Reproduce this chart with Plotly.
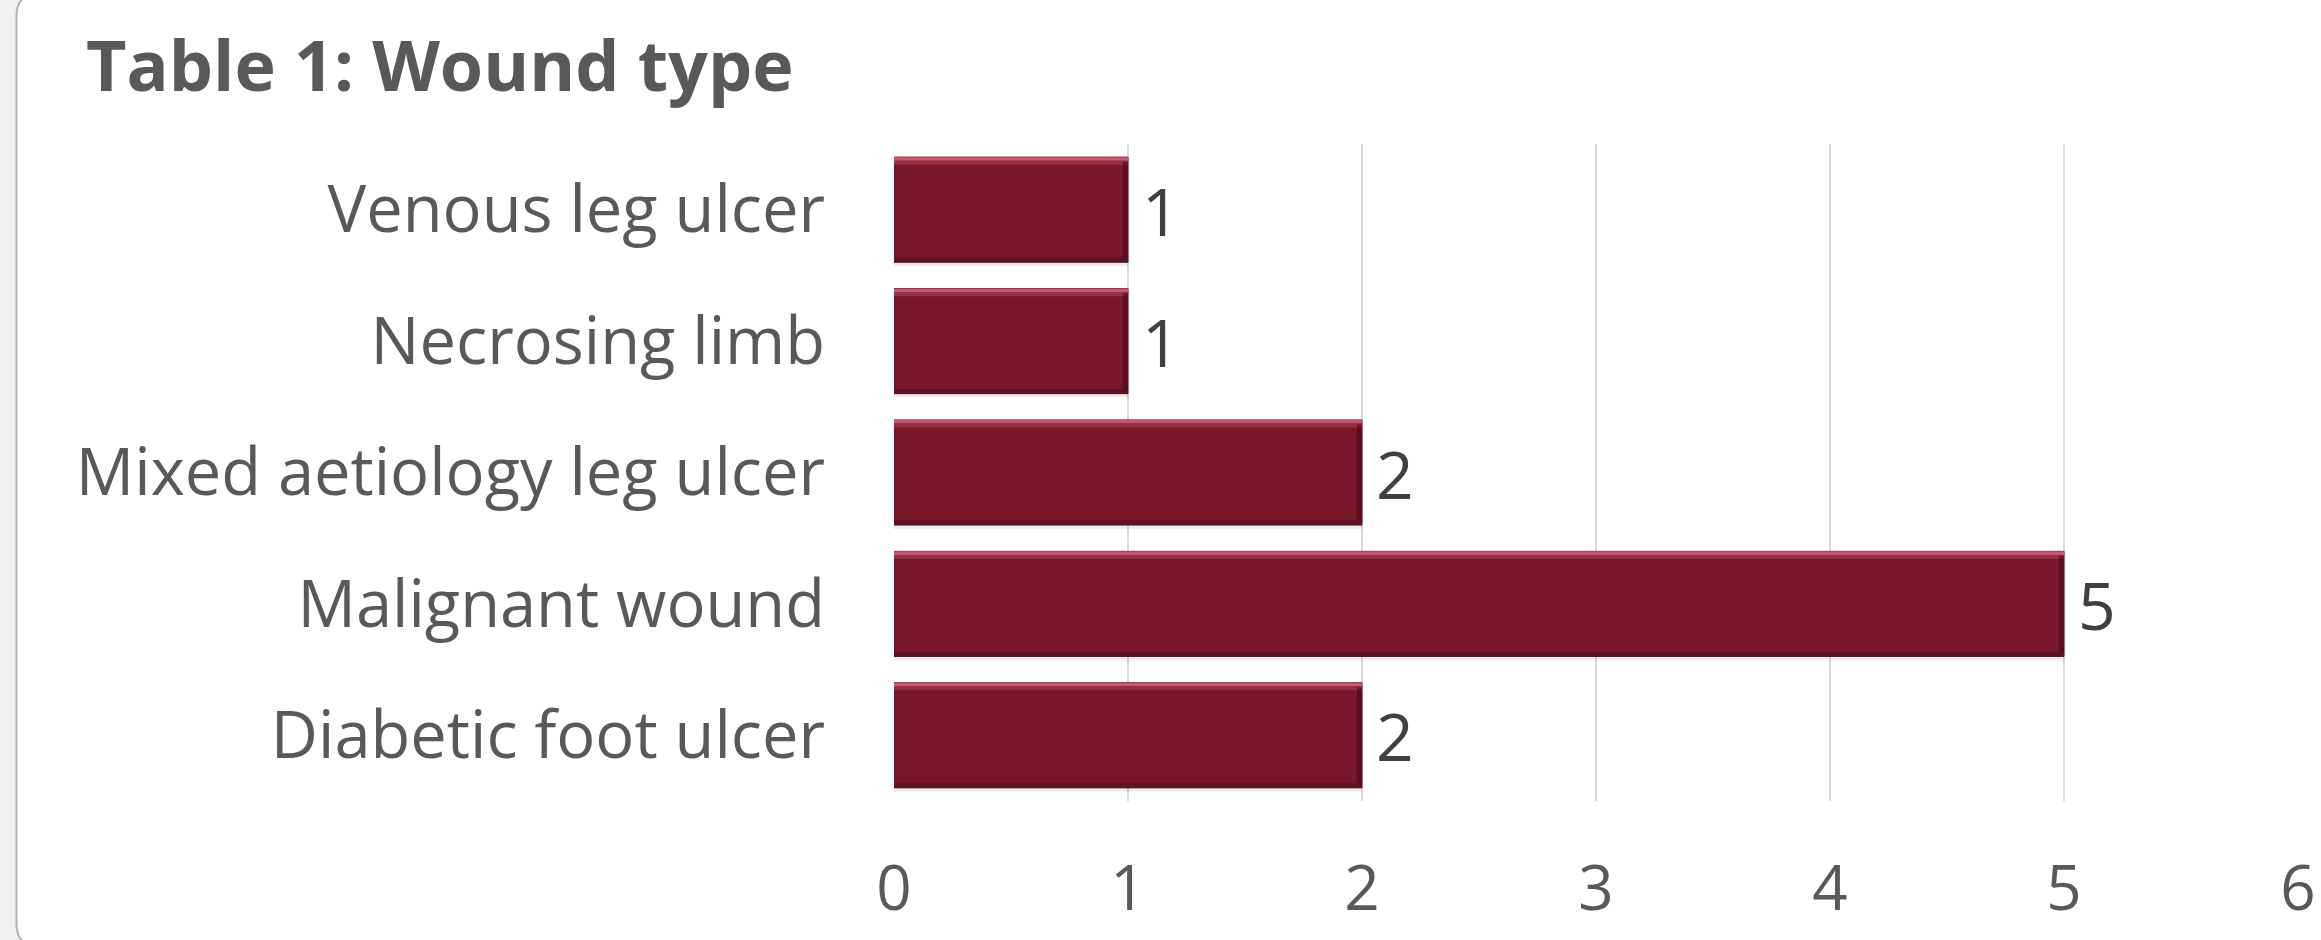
import plotly.graph_objects as go

# Data (bottom-to-top order on the y axis)
categories = ["Diabetic foot ulcer", "Malignant wound", "Mixed aetiology leg ulcer",
              "Necrosing limb", "Venous leg ulcer"]
counts = [2, 5, 2, 1, 1]
x_ticks = [0, 1, 2, 3, 4, 5, 6]
title_text = "Table 1: Wound type"

W, H = 2321, 940
ML, MR, MT, MB = 894, 23, 144, 139
PW, PH = W - ML - MR, H - MT - MB

FONT = "Open Sans"
BAR = "#78162b"
GAP = "\u2009"

fig = go.Figure()

# soft shadow under bars
fig.add_trace(go.Bar(
    y=categories, x=counts, orientation="h", width=0.035, offset=-0.43,
    marker=dict(color="rgba(0,0,0,0.07)", line=dict(width=0)),
    hoverinfo="skip", showlegend=False,
))
# main bars
fig.add_trace(go.Bar(
    y=categories, x=counts, orientation="h",
    width=0.8, offset=-0.4,
    marker=dict(color=BAR, line=dict(color="#5c0f1f", width=1)),
    text=[GAP + str(v) for v in counts], textposition="outside",
    textfont=dict(family=FONT, size=66, color="#404040"),
    constraintext="none", cliponaxis=False,
    hoverinfo="skip", showlegend=False,
))
# bevel highlights (top) and shade (bottom / right)
fig.add_trace(go.Bar(
    y=categories, x=counts, orientation="h", width=0.028, offset=0.372,
    marker=dict(color="#c05a71", line=dict(width=0)), hoverinfo="skip", showlegend=False,
))
fig.add_trace(go.Bar(
    y=categories, x=counts, orientation="h", width=0.03, offset=0.342,
    marker=dict(color="#9a2c44", line=dict(width=0)), hoverinfo="skip", showlegend=False,
))
fig.add_trace(go.Bar(
    y=categories, x=counts, orientation="h", width=0.035, offset=-0.4,
    marker=dict(color="#5e1121", line=dict(width=0)), hoverinfo="skip", showlegend=False,
))
fig.add_trace(go.Bar(
    y=categories, x=[0.022] * len(counts), base=[v - 0.022 for v in counts],
    orientation="h", width=0.73, offset=-0.365,
    marker=dict(color="rgba(70,10,22,0.55)", line=dict(width=0)),
    hoverinfo="skip", showlegend=False,
))

def px_x(p):
    return (p - ML) / PW

def px_y(p):
    return (H - MB - p) / PH

# card background with rounded corners
x0, x1, y0, y1, r = 16.5, 2400, -6, 946, 22
path = (f"M {px_x(x0 + r)},{px_y(y0)} L {px_x(x1)},{px_y(y0)} L {px_x(x1)},{px_y(y1)} "
        f"L {px_x(x0 + r)},{px_y(y1)} Q {px_x(x0)},{px_y(y1)} {px_x(x0)},{px_y(y1 - r)} "
        f"L {px_x(x0)},{px_y(y0 + r)} Q {px_x(x0)},{px_y(y0)} {px_x(x0 + r)},{px_y(y0)} Z")
fig.add_shape(type="path", path=path, xref="paper", yref="paper",
              fillcolor="white", line=dict(color="#b4b4b4", width=2), layer="below")

fig.update_layout(
    width=W, height=H,
    margin=dict(l=ML, r=MR, t=MT, b=MB, pad=0, autoexpand=False),
    paper_bgcolor="#f0f0f0", plot_bgcolor="rgba(0,0,0,0)",
    barmode="overlay",
    title=dict(text=f"<b>{title_text}</b>", x=86 / W, xanchor="left",
               y=1 - 66 / H, yanchor="middle", xref="container", yref="container",
               font=dict(family=FONT, size=70, color="#595959")),
    xaxis=dict(range=[0, 6], tickvals=x_ticks, ticktext=[str(t) for t in x_ticks],
               showgrid=True, gridcolor="#d9d9d9", gridwidth=1.5,
               zeroline=False, showline=False, ticks="", automargin=False,
               tickfont=dict(family=FONT, size=62, color="#595959"),
               ticklabelstandoff=46, fixedrange=True),
    yaxis=dict(showgrid=False, zeroline=False, showline=False, ticks="", automargin=False,
               tickfont=dict(family=FONT, size=65, color="#595959"),
               ticklabelstandoff=68, range=[-0.5, 4.5], fixedrange=True),
    showlegend=False,
)

fig.write_html("out.html", config={"displayModeBar": False},
               post_script="document.body.style.margin='0';document.body.style.overflow='hidden';")
